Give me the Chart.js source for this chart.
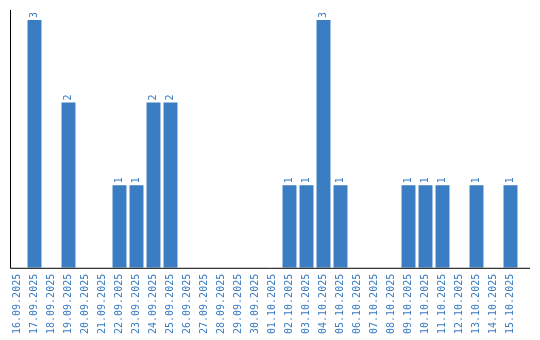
<!DOCTYPE html>
<html>
<head>
<meta charset="utf-8">
<script src="https://cdn.jsdelivr.net/npm/chart.js@4"></script>
<style>
html,body{margin:0;padding:0;background:#fff;}
#wrap{width:540px;height:340px;}
</style>
</head>
<body>
<div id="wrap"><canvas id="c" width="540" height="340"></canvas></div>
<script>
const categories = ["16.09.2025","17.09.2025","18.09.2025","19.09.2025","20.09.2025","21.09.2025","22.09.2025","23.09.2025","24.09.2025","25.09.2025","26.09.2025","27.09.2025","28.09.2025","29.09.2025","30.09.2025","01.10.2025","02.10.2025","03.10.2025","04.10.2025","05.10.2025","06.10.2025","07.10.2025","08.10.2025","09.10.2025","10.10.2025","11.10.2025","12.10.2025","13.10.2025","14.10.2025","15.10.2025"];
const counts = [0,3,0,2,0,0,1,1,2,2,0,0,0,0,0,0,1,1,3,1,0,0,0,1,1,1,0,1,0,1];

const BLUE = '#3a7dc2';
const TEXT_BLUE = '#3a7bc0';
const FONT = '"DejaVu Sans Mono"';

const valueLabels = {
  id: 'valueLabels',
  afterDatasetsDraw(chart) {
    const ctx = chart.ctx;
    const meta = chart.getDatasetMeta(0);
    ctx.save();
    ctx.fillStyle = TEXT_BLUE;
    ctx.font = '10px ' + FONT;
    ctx.textAlign = 'left';
    ctx.textBaseline = 'middle';
    meta.data.forEach((bar, i) => {
      const v = counts[i];
      if (!v) return;
      ctx.save();
      ctx.translate(bar.x, bar.y - 2);
      ctx.rotate(-Math.PI / 2);
      ctx.fillText(String(v), 0, 0);
      ctx.restore();
    });
    ctx.restore();
  }
};

const axisLines = {
  id: 'axisLines',
  afterDraw(chart) {
    const a = chart.chartArea;
    const ctx = chart.ctx;
    ctx.save();
    ctx.strokeStyle = '#000';
    ctx.lineWidth = 1;
    ctx.beginPath();
    ctx.moveTo(a.left + 1.5, a.top);
    ctx.lineTo(a.left + 1.5, a.bottom + 0.5);
    ctx.lineTo(a.right + 11, a.bottom + 0.5);
    ctx.stroke();
    ctx.restore();
  }
};

new Chart(document.getElementById('c'), {
  type: 'bar',
  data: {
    labels: categories,
    datasets: [{
      data: counts,
      backgroundColor: BLUE,
      borderWidth: 0,
      categoryPercentage: 1,
      barPercentage: 0.82
    }]
  },
  options: {
    responsive: false,
    animation: false,
    devicePixelRatio: 1,
    layout: { padding: { left: 9, right: 21, top: 10, bottom: 0 } },
    plugins: { legend: { display: false }, tooltip: { enabled: false } },
    scales: {
      x: {
        grid: { display: false, drawTicks: false },
        border: { display: false },
        ticks: {
          color: TEXT_BLUE,
          font: { family: 'DejaVu Sans Mono', size: 10 },
          minRotation: 90,
          maxRotation: 90,
          autoSkip: false,
          padding: 6
        }
      },
      y: {
        display: false,
        min: 0,
        max: 3.12
      }
    }
  },
  plugins: [valueLabels, axisLines]
});
</script>
</body>
</html>
